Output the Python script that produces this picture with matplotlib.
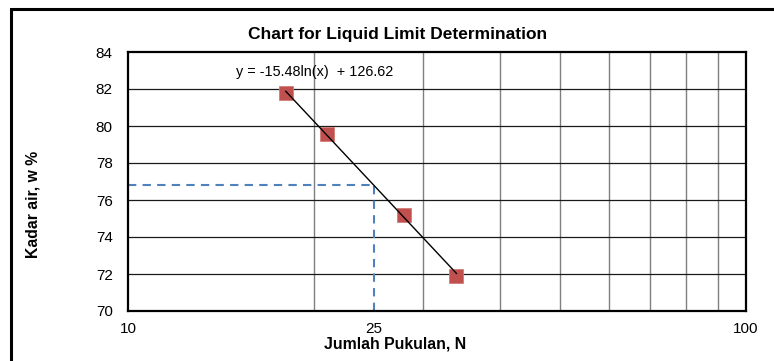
import numpy as np
import matplotlib
matplotlib.use("Agg")
import matplotlib.pyplot as plt
from matplotlib.patches import Rectangle

plt.rcParams['font.family'] = ['Liberation Sans', 'DejaVu Sans']

# Data
blows = [18, 21, 28, 34]
water_content = [81.77, 79.55, 75.19, 71.89]
slope = -15.48
intercept = 126.62
n_ref = 25
x_ticks = [10, 25, 100]
y_ticks = [70, 72, 74, 76, 78, 80, 82, 84]
v_grid = [20, 30, 40, 50, 60, 70, 80, 90]

fig = plt.figure(figsize=(7.74, 3.61), dpi=100)
ax = fig.add_axes([128/774, 1-311/361, (746-128)/774, (311-52)/361])

ax.set_xscale('log')
ax.set_xlim(10, 100)
ax.set_ylim(70, 84)

# gridlines
for g in v_grid:
    ax.axvline(g, color='#7f7f7f', lw=1.0, zorder=1)
for yv in y_ticks[1:-1]:
    ax.axhline(yv, color='#1a1a1a', lw=0.9, zorder=1)

# dashed reference lines
w_ref = slope*np.log(n_ref) + intercept
ax.plot([10, n_ref], [w_ref, w_ref], color='#4F81BD', lw=1.5, ls=(0, (4, 3)), zorder=2)
ax.plot([n_ref, n_ref], [70, w_ref], color='#4F81BD', lw=1.5, ls=(0, (4, 3)), zorder=2)

# markers
ax.plot(blows, water_content, ls='none', marker='s', ms=9.5, mfc='#C0504D',
        mec='#D47B78', mew=0.6, zorder=3)

# trendline
xt = np.linspace(min(blows), max(blows), 50)
ax.plot(xt, slope*np.log(xt) + intercept, color='black', lw=1.0, zorder=4)

ax.text(315/774, 1-72/361, 'y = -15.48ln(x)  + 126.62', transform=fig.transFigure,
        fontsize=10.4, ha='center', va='center')

ax.set_xticks(x_ticks)
ax.set_xticklabels([str(t) for t in x_ticks])
ax.xaxis.set_minor_locator(matplotlib.ticker.NullLocator())
ax.set_yticks(y_ticks)
ax.set_yticklabels([str(t) for t in y_ticks])
ax.tick_params(axis='both', length=0, labelsize=11, colors='black')
ax.tick_params(axis='x', pad=8)
ax.tick_params(axis='y', pad=11)

for s in ax.spines.values():
    s.set_linewidth(1.6)
    s.set_color('black')

fig.text(398/774, 1-34/361, 'Chart for Liquid Limit Determination', fontsize=12.5,
         fontweight='bold', ha='center', va='center')
fig.text(395/774, 1-344/361, 'Jumlah Pukulan, N', fontsize=11.4, fontweight='bold',
         ha='center', va='center')
fig.text(33/774, 1-204/361, 'Kadar air, w %', fontsize=11.3, fontweight='bold',
         ha='center', va='center', rotation=90)

fig.patches.append(Rectangle((11/774, -0.2), 1.2, 1-9/361+0.2, transform=fig.transFigure,
                             fill=False, ec='black', lw=2.2))

fig.savefig('out.png', dpi=100)
